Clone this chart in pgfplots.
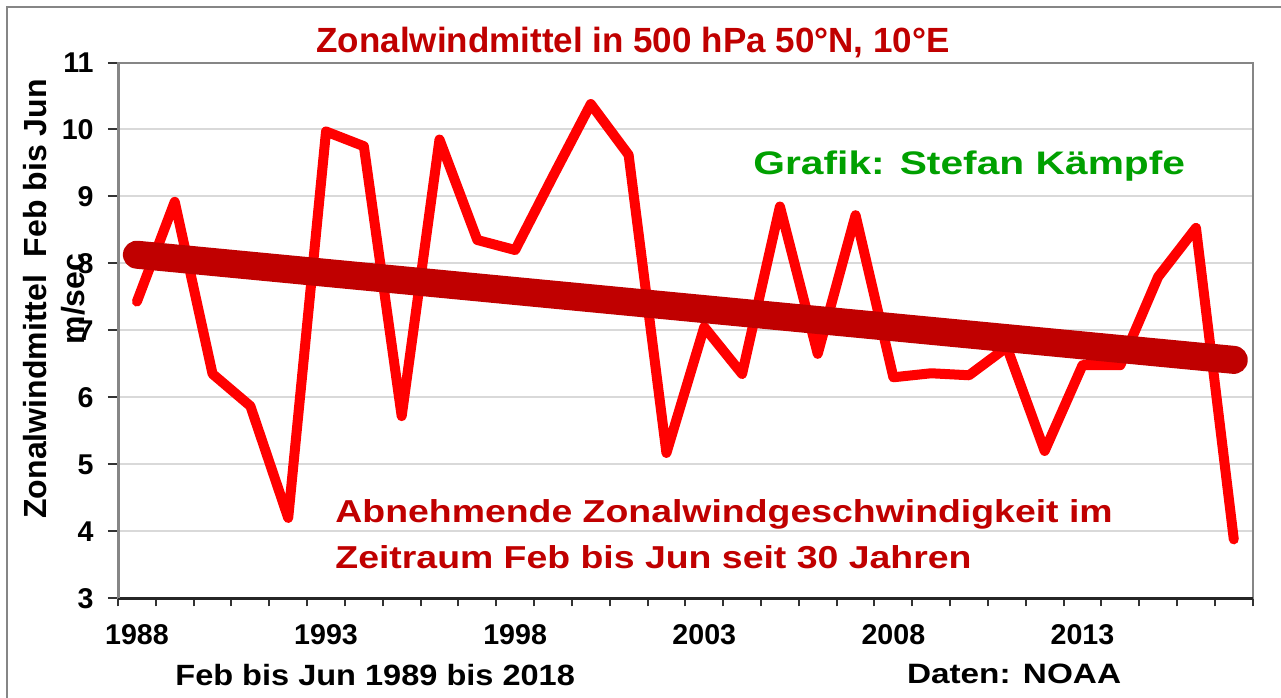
\documentclass[border=0pt]{standalone}
\usepackage{fontspec}
\setmainfont{Liberation Sans}
\usepackage{graphicx}
\usepackage{pgfplots}
\pgfplotsset{compat=1.18}
\definecolor{darkred}{RGB}{192,0,0}
\definecolor{linered}{RGB}{255,0,0}
\definecolor{grafgreen}{RGB}{0,160,0}
\definecolor{gridgray}{RGB}{217,217,217}
\definecolor{framegray}{RGB}{134,134,134}

\pgfplotstableread{
x y
0 7.43
1 8.92
2 6.35
3 5.87
4 4.20
5 9.97
6 9.75
7 5.72
8 9.85
9 8.35
10 8.20
11 9.30
12 10.38
13 9.62
14 5.17
15 7.05
16 6.35
17 8.85
18 6.65
19 8.72
20 6.30
21 6.36
22 6.33
23 6.75
24 5.20
25 6.48
26 6.48
27 7.80
28 8.53
29 3.88
}\winddata

\begin{document}
\begin{tikzpicture}
\useasboundingbox (0,0) rectangle (640.5pt,348.5pt);
\fill[white] (0,0) rectangle (640.5pt,348.5pt);
\draw[framegray, line width=1pt] (3.5pt,-2pt) -- (3.5pt,345pt) -- (643pt,345pt);
\begin{axis}[
  at={(59pt,49.35pt)}, anchor=south west,
  scale only axis, width=567.35pt, height=267.9pt,
  xmin=-0.5, xmax=29.5, ymin=3, ymax=11,
  ytick={3,4,...,11},
  xtick={0,5,10,15,20,25},
  xticklabels={1988,1993,1998,2003,2008,2013},
  minor xtick={-0.5,0.5,...,29.5},
  tick align=outside,
  xtick pos=left, ytick pos=left,
  major tick length=5pt, minor tick length=4pt,
  major x tick style={draw=none},
  ymajorgrids,
  major grid style={gridgray, line width=1pt},
  axis line style={framegray, line width=1pt},
  tick style={black!80, line width=1pt},
  /pgf/number format/assume math mode=true,
  ticklabel style={font=\fontsize{14.3}{16}\selectfont\bfseries},
  yticklabel style={anchor=east, inner sep=0pt, xshift=-7pt},
  xticklabel style={anchor=base, inner sep=0pt, yshift=-17.85pt},
  clip=false,
]
\addplot[linered, line width=5pt, line join=round, line cap=round] table[x=x, y=y] {\winddata};
\addplot[darkred, line width=14pt, line cap=round] coordinates {(0,8.13) (29,6.56)};
\draw[black!85, line width=1.5pt] (rel axis cs:0,0) -- (rel axis cs:1,0);
\draw[framegray, line width=1.5pt] (rel axis cs:0,0) -- (rel axis cs:0,1);
\end{axis}
\node[anchor=base, inner sep=0pt, text=darkred, font=\fontsize{17.5}{21}\selectfont\bfseries] at (316.5pt,322pt) {Zonalwindmittel in 500 hPa 50°N, 10°E};
\node[rotate=90, anchor=base, inner sep=0pt, font=\fontsize{16}{19}\selectfont\bfseries] at (23.5pt,199pt) {Zonalwindmittel\ \ Feb bis Jun};
\node[rotate=90, anchor=base, inner sep=0pt, font=\fontsize{16}{19}\selectfont\bfseries] at (42pt,199pt) {m/sec};
\node[anchor=base west, inner sep=0pt, text=grafgreen, font=\fontsize{16.3}{19}\selectfont\bfseries] at (376.5pt,261pt) {\scalebox{1.25}[1]{Grafik: Stefan Kämpfe}};
\node[anchor=base west, inner sep=0pt, text=darkred, font=\fontsize{15.85}{19}\selectfont\bfseries] at (167.5pt,87.15pt) {\scalebox{1.18}[1]{Abnehmende Zonalwindgeschwindigkeit im}};
\node[anchor=base west, inner sep=0pt, text=darkred, font=\fontsize{15.85}{19}\selectfont\bfseries] at (167.5pt,64.35pt) {\scalebox{1.18}[1]{Zeitraum Feb bis Jun seit 30 Jahren}};
\node[anchor=base west, inner sep=0pt, font=\fontsize{14.65}{17}\selectfont\bfseries] at (87.5pt,5.5pt) {\scalebox{1.11}[1]{Feb bis Jun 1989 bis 2018}};
\node[anchor=base west, inner sep=0pt, font=\fontsize{14}{17}\selectfont\bfseries] at (453.3pt,7pt) {\scalebox{1.19}[1]{Daten: NOAA}};
\end{tikzpicture}
\end{document}
